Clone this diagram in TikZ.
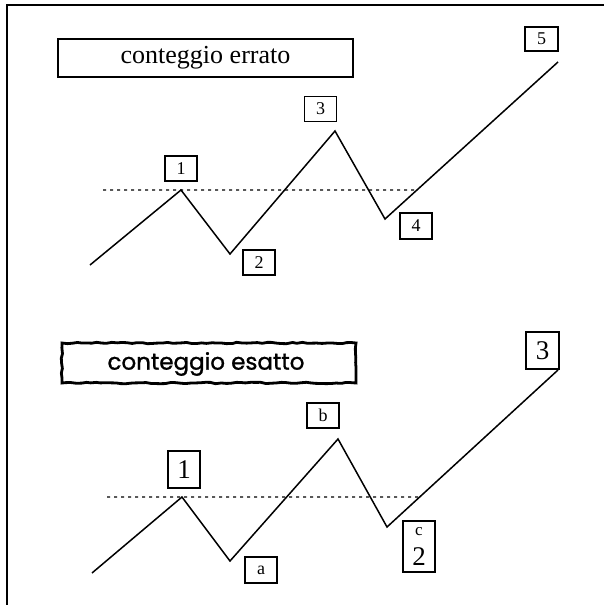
\documentclass[tikz,border=0pt]{standalone}
\usepackage{fontspec}
\setmainfont{Liberation Serif}
\newfontfamily\handfont[FakeBold=1.2]{Poppins}
\usetikzlibrary{calc,decorations.pathmorphing}
\tikzset{
  lbox/.style={draw, line width=1.2pt, inner sep=0pt, font=\fontsize{18}{18}\selectfont, minimum width=32pt, minimum height=25pt},
  bigbox/.style={lbox, font=\fontsize{27}{27}\selectfont},
  wave/.style={line width=1.5pt, line join=miter},
  level/.style={line width=1.2pt, dash pattern=on 3pt off 4pt},
  frameline/.style={line width=2pt},
}
\begin{document}
\begin{tikzpicture}[x=1pt,y=-1pt]
\useasboundingbox (0,0) rectangle (604,605);
\fill[white] (0,0) rectangle (604,605);
% frame (top and left only)
\coordinate (fa) at (6.5,605);
\coordinate (fb) at (6.5,5);
\coordinate (fc) at (604,5);
\draw[frameline] (fa) -- (fb) -- (fc);

% ---------- top: conteggio errato ----------
\node[draw, line width=1.2pt, minimum width=295pt, minimum height=38pt, inner sep=0pt,
      font=\fontsize{26}{26}\selectfont] (t1) at (205.5,58) {conteggio errato};
\coordinate (s0) at (90,265);
\coordinate (p1) at (181,190);
\coordinate (p2) at (230,254);
\coordinate (p3) at (335,131);
\coordinate (p4) at (385,219);
\coordinate (p5) at (558,62);
\draw[wave] (s0) -- (p1) -- (p2) -- (p3) -- (p4) -- (p5);
\coordinate (d0) at (103,190);
\coordinate (d1) at ($(p4)!0.185!(p5)$);
\draw[level] (d0) -- (d1);
\node[lbox] (n1) at (181,168.5) {1};
\node[lbox] (n2) at (259,262.5) {2};
\node[lbox] (n3) at (320.5,109) {3};
\node[lbox, minimum height=26pt] (n4) at (416,226) {4};
\node[lbox, minimum width=33pt, minimum height=24pt] (n5) at (541.5,39) {5};

% ---------- bottom: conteggio esatto ----------
\node[minimum width=294pt, minimum height=40pt, inner sep=0pt,
      font=\handfont\fontsize{23}{23}\selectfont] (t2) at (206,364) {conteggio esatto};
\draw[line width=2.8pt, decorate, decoration={random steps, segment length=5pt, amplitude=0.7pt}]
  (62,343) -- (356,343) -- (356,383) -- (62,383) -- cycle;
\coordinate (q0) at (92,573);
\coordinate (q1) at (182,497);
\coordinate (q2) at (230,561);
\coordinate (q3) at (338,439);
\coordinate (q4) at (387,527);
\coordinate (q5) at (558,370);
\draw[wave] (q0) -- (q1) -- (q2) -- (q3) -- (q4) -- (q5);
\coordinate (e0) at (107,497);
\coordinate (e1) at ($(q4)!0.191!(q5)$);
\draw[level] (e0) -- (e1);
\node[bigbox, minimum height=37pt] (m1) at (184,469.5) {1};
\node[lbox, minimum height=26pt] (ma) at (261,570) {a};
\node[lbox] (mb) at (323,415.5) {b};
\node[lbox, minimum height=51pt] (mc) at (419,546.5) {};
\node[inner sep=0pt, font=\fontsize{17}{17}\selectfont] (mcc) at (419,532) {c};
\node[inner sep=0pt, font=\fontsize{27}{27}\selectfont] (mc2) at (419,557) {2};
\node[bigbox, minimum width=33pt, minimum height=37pt] (m3) at (542.5,350.5) {3};
\end{tikzpicture}
\end{document}
